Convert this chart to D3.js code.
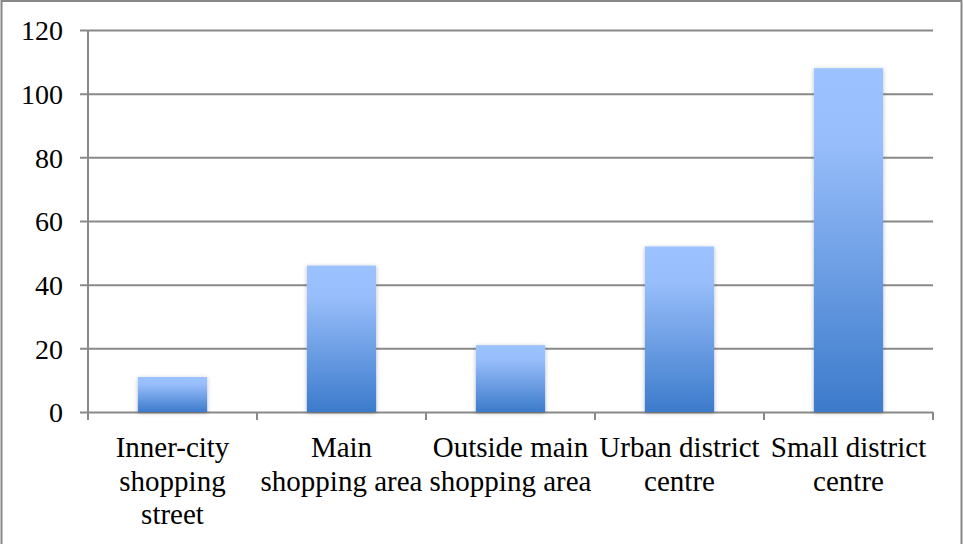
<!DOCTYPE html>
<html>
<head>
<meta charset="utf-8">
<script src="https://cdn.jsdelivr.net/npm/d3@7"></script>
<style>
  html, body { margin: 0; padding: 0; background: #fff; }
  svg { display: block; }
</style>
</head>
<body>
<svg id="chart" width="963" height="544"></svg>
<script>
// Chart data
const categories = [
  ["Inner-city", "shopping", "street"],
  ["Main", "shopping area"],
  ["Outside main", "shopping area"],
  ["Urban district", "centre"],
  ["Small district", "centre"]
];
const values = [11, 46, 21, 52, 108];
const yTicks = [0, 20, 40, 60, 80, 100, 120];

const W = 963, H = 544;
const margin = { left: 88, right: 30, top: 30, bottom: 132 };
const FONT = "Liberation Serif";

const svg = d3.select("#chart");
const defs = svg.append("defs");

// Vertical light-to-dark blue fill shared by every bar
const grad = defs.append("linearGradient")
  .attr("id", "barGrad")
  .attr("x1", 0).attr("y1", 0).attr("x2", 0).attr("y2", 1);
grad.append("stop").attr("offset", "0%").attr("stop-color", "#9cc3ff");
grad.append("stop").attr("offset", "22%").attr("stop-color", "#97bdfa");
grad.append("stop").attr("offset", "100%").attr("stop-color", "#3c7bcb");

const shadow = defs.append("filter").attr("id", "barShadow")
  .attr("x", "-20%").attr("y", "-20%").attr("width", "140%").attr("height", "140%");
shadow.append("feDropShadow")
  .attr("dx", 0).attr("dy", 1).attr("stdDeviation", 2.2)
  .attr("flood-color", "#000").attr("flood-opacity", 0.28);

// Outer frame
svg.append("rect")
  .attr("x", 1.5).attr("y", 1).attr("width", W - 3).attr("height", H + 4)
  .attr("fill", "#fff").attr("stroke", "#878787").attr("stroke-width", 2);

const x = d3.scaleBand()
  .domain(d3.range(categories.length))
  .range([margin.left, W - margin.right])
  .paddingInner(0.59).paddingOuter(0.295);

const y = d3.scaleLinear()
  .domain([0, 120])
  .range([H - margin.bottom, margin.top]);

// Horizontal gridlines, extended left into tick stubs
const gy = svg.append("g")
  .attr("transform", `translate(${W - margin.right},0)`);
gy.call(d3.axisRight(y).tickValues(yTicks)
  .tickSize(-(W - margin.right - margin.left) - 8).tickFormat(""));
gy.select(".domain").remove();
gy.selectAll(".tick line").attr("stroke", "#898989").attr("stroke-width", 2);

// Y tick labels
svg.append("g").selectAll("text")
  .data(yTicks).join("text")
  .attr("x", 63).attr("y", d => y(d))
  .attr("dy", "0.37em")
  .attr("text-anchor", "end")
  .attr("font-family", FONT)
  .attr("font-size", 28)
  .attr("fill", "#000")
  .text(d => d);

// Vertical axis line
svg.append("line")
  .attr("x1", margin.left).attr("x2", margin.left)
  .attr("y1", y(120)).attr("y2", y(0) + 8)
  .attr("stroke", "#898989").attr("stroke-width", 2);

// Category boundary ticks on the x axis
const step = x.step();
const bounds = d3.range(categories.length + 1).map(i => margin.left + i * step);
svg.append("g").selectAll("line")
  .data(bounds).join("line")
  .attr("x1", d => d).attr("x2", d => d)
  .attr("y1", y(0)).attr("y2", y(0) + 8)
  .attr("stroke", "#898989").attr("stroke-width", 2);

// Bars
svg.append("g").selectAll("rect")
  .data(values).join("rect")
  .attr("x", (d, i) => x(i))
  .attr("width", x.bandwidth())
  .attr("y", d => y(d))
  .attr("height", d => y(0) - y(d))
  .attr("fill", "url(#barGrad)")
  .attr("filter", "url(#barShadow)");

// Category labels
const labels = svg.append("g").selectAll("text")
  .data(categories).join("text")
  .attr("x", (d, i) => x(i) + x.bandwidth() / 2)
  .attr("y", 457)
  .attr("text-anchor", "middle")
  .attr("font-family", FONT)
  .attr("font-size", 29)
  .attr("fill", "#000");
labels.each(function(lines) {
  const t = d3.select(this);
  lines.forEach((ln, j) => {
    t.append("tspan")
      .attr("x", t.attr("x"))
      .attr("dy", j === 0 ? 0 : 33.5)
      .text(ln);
  });
});
</script>
</body>
</html>
